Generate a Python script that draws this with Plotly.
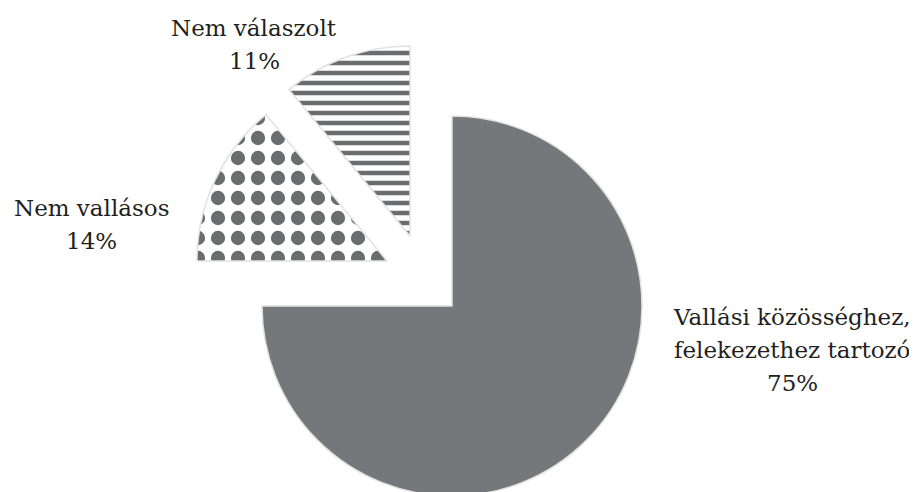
import plotly.graph_objects as go

# ── Data ────────────────────────────────────────────────────
labels = ["Vallási közösséghez, felekezethez tartozó", "Nem vallásos", "Nem válaszolt"]
values = [75, 14, 11]
label_lines = [
    ["Vallási közösséghez,", "felekezethez tartozó"],
    ["Nem vallásos"],
    ["Nem válaszolt"],
]

# ── Style ───────────────────────────────────────────────────
W, H = 917, 492
OFF = 8  # default body margin of the html page
R = 190  # pie radius in px
# centre of each (exploded) slice, screen px (x, y from top)
centres = [(452, 306), (387, 261), (410, 236)]
fills = ["#76777a", "#ffffff", "#ffffff"]
shapes = ["", ".", "-"]
pat_size = [10, 20, 10]
pat_solid = [0.5, 0.4, 0.45]
FG = "#6b6c6e"
EDGE = "#e2e2e2"
TRANSPARENT = "rgba(0,0,0,0)"

fig = go.Figure()

# one trace per slice so each exploded slice can sit at its own offset
for i in range(len(values)):
    cx, cy = centres[i][0] - OFF, centres[i][1] - OFF
    cy_p = H - cy
    show = [j == i for j in range(len(values))]
    fig.add_trace(go.Pie(
        labels=labels,
        values=values,
        sort=False,
        direction="clockwise",
        rotation=0,
        textinfo="none",
        hoverinfo="label+percent",
        showlegend=False,
        domain=dict(x=[(cx - R) / W, (cx + R) / W],
                    y=[max(0, (cy_p - R) / H), (cy_p + R) / H]),
        marker=dict(
            colors=[fills[j] if s else TRANSPARENT for j, s in enumerate(show)],
            line=dict(width=[1.5 if s else 0 for s in show],
                      color=[EDGE if s else TRANSPARENT for s in show]),
            pattern=dict(
                shape=[shapes[j] if s else "" for j, s in enumerate(show)],
                fgcolor=[FG] * len(values),
                bgcolor=[fills[j] if s else TRANSPARENT for j, s in enumerate(show)],
                size=pat_size,
                solidity=pat_solid,
            ),
        ),
    ))

# ── Labels ──────────────────────────────────────────────────
label_pos = [(792, 317), (91, 208), (254, 28)]  # first line centre, screen px
LINE = 33
for i, lines in enumerate(label_lines):
    x0, y0 = label_pos[i][0] - OFF, label_pos[i][1] - OFF
    for k, txt in enumerate(lines + [f"{values[i]}%"]):
        fig.add_annotation(
            text=txt, xref="paper", yref="paper",
            x=x0 / W, y=1 - (y0 + k * LINE) / H,
            xanchor="center", yanchor="middle",
            showarrow=False,
            font=dict(family="DejaVu Serif", size=23, color="#231f20"),
        )

fig.update_layout(
    width=W, height=H,
    margin=dict(l=0, r=0, t=0, b=0),
    paper_bgcolor="white",
    plot_bgcolor="white",
)

fig.write_html("out.html")
